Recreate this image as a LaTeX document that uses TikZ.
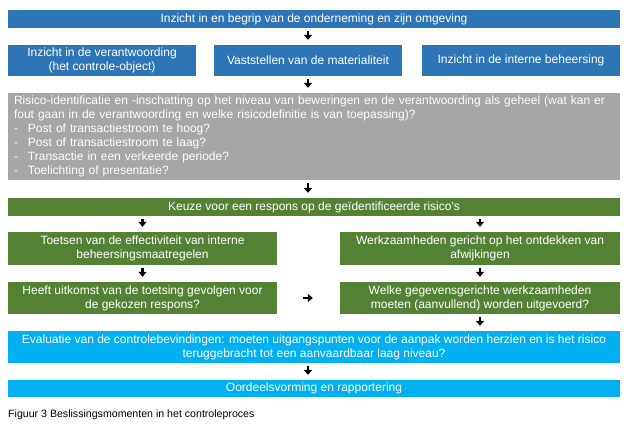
\documentclass[tikz,border=0pt]{standalone}
\usepackage{fontspec}
\setmainfont{Liberation Sans}
\usepackage{tikz}
\usetikzlibrary{arrows.meta}

\definecolor{donkerblauw}{HTML}{2E75B6}
\definecolor{lichtblauw}{HTML}{00B0F0}
\definecolor{groen}{HTML}{548235}
\definecolor{grijs}{HTML}{A6A6A6}

\tikzset{
    vak/.style={rectangle, inner sep=0pt, text=white, align=center,
        font=\fontsize{12}{14}\selectfont},
    blauwvak/.style={vak, fill=donkerblauw},
    groenvak/.style={vak, fill=groen},
    cyaanvak/.style={vak, fill=lichtblauw},
    pijl/.style={-{Triangle[width=8pt, length=5pt]}, line width=2.4pt,
        shorten <=3pt, shorten >=5pt}
}

\begin{document}
\begin{tikzpicture}[x=1pt, y=-1pt]
        \useasboundingbox (0,0) rectangle (632,428);
        % bovenste rij
        \node[blauwvak, minimum width=612pt, minimum height=18pt] (begrip) at (314,19) {Inzicht in en begrip van de onderneming en zijn omgeving};
        \node[blauwvak, minimum width=188pt, minimum height=31pt] (verantw) at (102,60.5) {Inzicht in de verantwoording\\(het controle-object)};
        \node[blauwvak, minimum width=188pt, minimum height=31pt] (mat) at (308,60.5) {Vaststellen van de materialiteit};
        \node[blauwvak, minimum width=198pt, minimum height=31pt] (beheers) at (521,60.5) {Inzicht in de interne beheersing};
        % risico-analyse
        \node[vak, fill=grijs, align=left, text width=600pt, inner xsep=6pt, minimum height=87pt] (risico) at (314,136.5) {Risico-identificatie en -inschatting op het niveau van beweringen en de verantwoording als geheel (wat kan er\\
            fout gaan in de verantwoording en welke risicodefinitie is van toepassing)?\\
            \makebox[14pt][l]{-}Post of transactiestroom te hoog?\\
            \makebox[14pt][l]{-}Post of transactiestroom te laag?\\
            \makebox[14pt][l]{-}Transactie in een verkeerde periode?\\
            \makebox[14pt][l]{-}Toelichting of presentatie?};
        % respons
        \node[groenvak, minimum width=612pt, minimum height=18pt] (keuze) at (314,207) {Keuze voor een respons op de geïdentificeerde risico\textquotesingle s};
        \node[groenvak, minimum width=269pt, minimum height=33pt] (toets) at (142.5,248.5) {Toetsen van de effectiviteit van interne\\beheersingsmaatregelen};
        \node[groenvak, minimum width=280pt, minimum height=33pt] (werk) at (480,248.5) {Werkzaamheden gericht op het ontdekken van\\afwijkingen};
        \node[groenvak, minimum width=269pt, minimum height=32pt] (uitkomst) at (142.5,298) {Heeft uitkomst van de toetsing gevolgen voor\\de gekozen respons?};
        \node[groenvak, minimum width=280pt, minimum height=32pt] (welke) at (480,298) {Welke gegevensgerichte werkzaamheden\\moeten (aanvullend) worden uitgevoerd?};
        % afronding
        \node[cyaanvak, minimum width=612pt, minimum height=32pt] (evaluatie) at (314,347) {Evaluatie van de controlebevindingen: moeten uitgangspunten voor de aanpak worden herzien en is het risico\\teruggebracht tot een aanvaardbaar laag niveau?};
        \node[cyaanvak, minimum width=612pt, minimum height=17pt] (oordeel) at (314,388.5) {Oordeelsvorming en rapportering};
        \node[anchor=west, inner sep=0pt, font=\fontsize{10.6}{12}\selectfont] (bijschrift) at (8,415) {Figuur 3 Beslissingsmomenten in het controleproces};
        % pijlen
        \draw[pijl] (begrip.south -| mat.north) -- (mat.north);
        \draw[pijl] (mat.south) -- (mat.south |- risico.north);
        \draw[pijl] (mat.south |- risico.south) -- (mat.south |- keuze.north);
        \draw[pijl] (keuze.south -| toets.north) -- (toets.north);
        \draw[pijl] (keuze.south -| werk.north) -- (werk.north);
        \draw[pijl] (toets.south) -- (uitkomst.north);
        \draw[pijl] (werk.south) -- (welke.north);
        \draw[pijl, shorten <=26pt, shorten >=27pt] (uitkomst.east) -- (welke.west);
        \draw[pijl] (welke.south) -- (welke.south |- evaluatie.north);
        \draw[pijl] (mat.south |- evaluatie.south) -- (mat.south |- oordeel.north);
    \end{tikzpicture}
\end{document}
